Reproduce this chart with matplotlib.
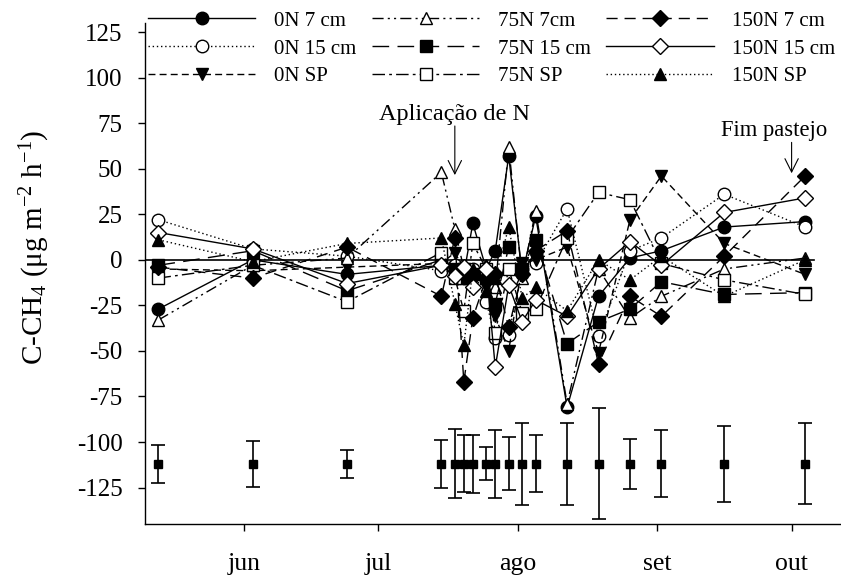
import matplotlib
matplotlib.use('Agg')
import matplotlib.pyplot as plt
import matplotlib.dates as mdates
import numpy as np

plt.rcParams['font.family'] = ['Liberation Serif', 'DejaVu Serif']
plt.rcParams['mathtext.fontset'] = 'custom'
plt.rcParams['mathtext.rm'] = 'Liberation Serif'
plt.rcParams['mathtext.it'] = 'Liberation Serif:italic'
plt.rcParams['axes.unicode_minus'] = False

# datas de coleta
datas = np.array(['2010-05-13', '2010-06-03', '2010-06-24', '2010-07-15', '2010-07-18',
                  '2010-07-20', '2010-07-22', '2010-07-25', '2010-07-27', '2010-07-30',
                  '2010-08-02', '2010-08-05', '2010-08-12', '2010-08-19', '2010-08-26',
                  '2010-09-02', '2010-09-16', '2010-10-04'], dtype='datetime64[D]')

# fluxos de C-CH4 (ug m-2 h-1)
n0_7cm   = [-27, 0, -8, -3, -5, -8, 20, -5, 5, 57, -8, 24, -81, -20, 1, 5, 18, 21]
n0_15cm  = [22, 6, 2, -6, -3, -10, -5, -23, -43, -41, -5, -2, 28, -42, 5, 12, 36, 18]
n0_sp    = [-5, -6, -4, -2, 4, -5, -12, -15, -31, -50, -2, 0, 7, -51, 22, 46, 9, -8]
n75_7cm  = [-33, -3, 1, 48, 17, -5, -8, -3, -15, 62, -10, 27, -79, -5, -32, -20, -5, 1]
n75_15cm = [-3, 5, -17, 0, -5, -10, -8, -10, -24, 7, -5, 11, -46, -34, -27, -12, -19, -18]
n75_sp   = [-10, -3, -23, 4, -10, -28, 9, -5, -40, -5, -29, -27, 12, 37, 33, -2, -11, -19]
n150_7cm = [-4, -10, 7, -20, 12, -67, -32, -10, -8, -37, -8, 5, 16, -57, -20, -31, 2, 46]
n150_15cm = [15, 6, -13, -3, -9, -4, -15, -5, -59, -14, -34, -22, -31, -5, 10, -3, 26, 34]
n150_sp  = [11, -1, 9, 12, -24, -47, -5, -17, -10, 18, -21, -15, -28, 0, -11, 2, -20, 0]

# barras de erro (DMS) no rodape
centro_erro = -112
erro = [10.5, 12.8, 7.8, 13.2, 19, 15.7, 16, 9, 18.8, 14.6, 22.3, 15.7, 22.7, 30.5,
        13.7, 18.4, 20.7, 22.2]

rotulos = ['0N 7 cm', '0N 15 cm', '0N SP', '75N 7cm', '75N 15 cm', '75N SP',
           '150N 7 cm', '150N 15 cm', '150N SP']
series = [n0_7cm, n0_15cm, n0_sp, n75_7cm, n75_15cm, n75_sp, n150_7cm, n150_15cm, n150_sp]
marcadores = ['o', 'o', 'v', '^', 's', 's', 'D', 'D', '^']
cheios = [True, False, True, False, True, False, True, False, True]
linhas = ['-', (0, (1, 2)), (0, (5, 3)), (0, (8, 3, 1.5, 3, 1.5, 3)), (0, (12, 6)),
          (0, (9, 3, 2, 3)), (0, (8, 5)), '-', (0, (1, 2))]

fig = plt.figure(figsize=(8.41, 5.75), dpi=100)
ax = fig.add_axes([145 / 841, 1 - 524 / 575, 1 - 145 / 841, (524 - 23) / 575])

x = datas.astype(object)
xmin = np.datetime64('2010-05-10')
xmax = np.datetime64('2010-10-12')
ax.set_xlim(xmin.astype(object), xmax.astype(object))
ax.set_ylim(-145, 130)

# linha do zero
fim_zero = (np.datetime64('2010-10-06') - xmin) / (xmax - xmin)
ax.axhline(0, xmin=0, xmax=fim_zero, color='black', lw=1.2, zorder=1)

for s, lab, m, f, ls in zip(series, rotulos, marcadores, cheios, linhas):
    ms = 9 if m != 'D' else 8
    ax.plot(x, s, linestyle=ls, color='black', lw=1.0, marker=m, ms=ms,
            markerfacecolor='black' if f else 'white', markeredgecolor='black',
            markeredgewidth=1.0, label=lab)

ax.errorbar(x, [centro_erro] * len(x), yerr=erro, fmt='s', color='black', ms=6,
            capsize=5, elinewidth=1.2, capthick=1.2)

d_aplic = np.datetime64('2010-07-18').astype(object)
ax.annotate('', xy=(d_aplic, 45), xytext=(d_aplic, 75),
            arrowprops=dict(arrowstyle='->', lw=0.8, mutation_scale=24))
ax.text(d_aplic, 80, 'Aplicação de N', ha='center', va='center', fontsize=17.5)
d_fim = np.datetime64('2010-10-01').astype(object)
ax.annotate('', xy=(d_fim, 46), xytext=(d_fim, 66),
            arrowprops=dict(arrowstyle='->', lw=0.8, mutation_scale=24))
ax.text(np.datetime64('2010-09-27').astype(object), 71, 'Fim pastejo',
        ha='center', va='center', fontsize=16.3)

ax.set_yticks(np.arange(-125, 126, 25))
ax.xaxis.set_major_locator(mdates.MonthLocator(bymonth=[6, 7, 8, 9, 10]))
ax.set_xticks(ax.get_xticks())
ax.set_xticklabels(['jun', 'jul', 'ago', 'set', 'out'])
ax.tick_params(axis='both', direction='out', length=5, width=1)
ax.tick_params(axis='y', labelsize=18, pad=11)
ax.tick_params(axis='x', labelsize=18.5, pad=16)
for lado in ['top', 'right']:
    ax.spines[lado].set_visible(False)
for lado in ['left', 'bottom']:
    ax.spines[lado].set_linewidth(1.0)

ax.set_ylabel('C-CH$_4$ (μg m$^{-2}$ h$^{-1}$)', fontsize=21)
ax.yaxis.set_label_coords(-0.134, 0.553)

fig.legend(loc='upper left', bbox_to_anchor=(148 / 841, 1 - 11 / 575), ncol=3,
           frameon=False, fontsize=15, handlelength=5.15, handletextpad=0.9,
           columnspacing=0.75, labelspacing=0.4, borderpad=0, borderaxespad=0)

fig.savefig('out.png', dpi=100)
